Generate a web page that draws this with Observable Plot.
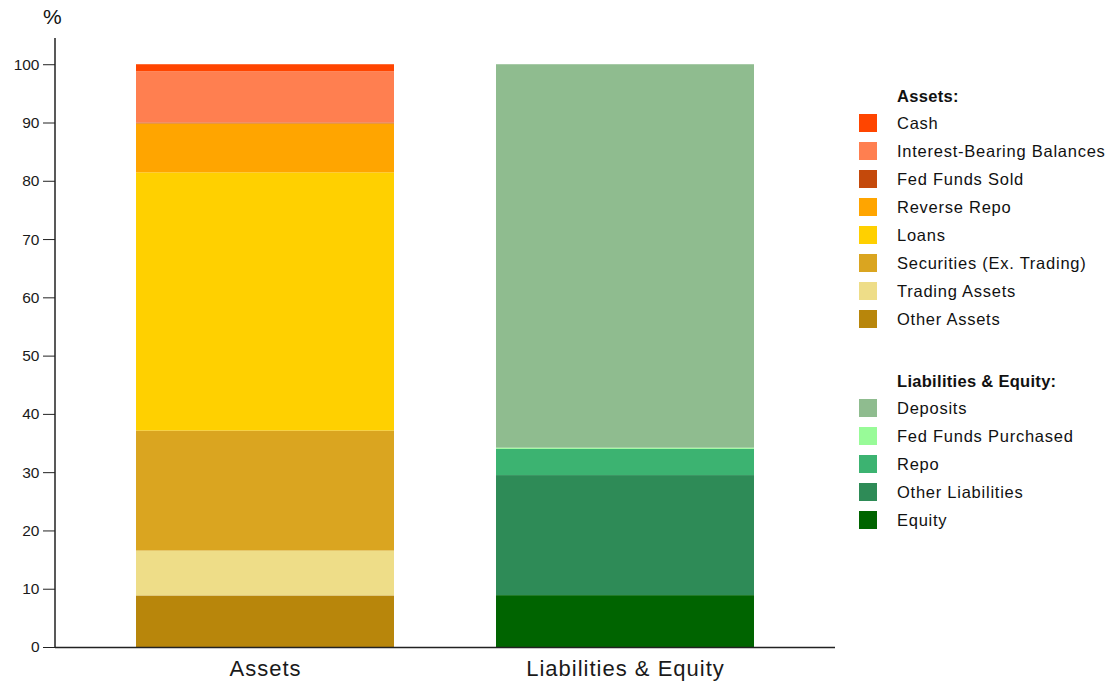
<!DOCTYPE html>
<html>
<head>
<meta charset="utf-8">
<script src="https://cdn.jsdelivr.net/npm/d3@7"></script>
<script src="https://cdn.jsdelivr.net/npm/@observablehq/plot@0.6"></script>
<style>
  body { margin: 0; background: #fff; font-family: "Liberation Sans", Arial, sans-serif; }
  #wrap { position: relative; width: 1112px; height: 683px; }
  #chart { position: absolute; left: 0; top: 0; }
  .lg { position: absolute; font-size: 16.5px; letter-spacing: 0.75px; color: #111; white-space: nowrap; line-height: 18px; }
  .hd { font-weight: bold; letter-spacing: 0.3px; }
  .sw { position: absolute; width: 18px; height: 18px; }
  #pct { position: absolute; left: 43px; top: 5px; font-size: 21px; color: #111; }
  .xl text { letter-spacing: 1px; }
</style>
</head>
<body>
<div id="wrap">
  <div id="chart"></div>
  <div id="pct">%</div>
</div>
<script>
const groups = ["Assets", "Liabilities & Equity"];
const assetItems = ["Cash", "Interest-Bearing Balances", "Fed Funds Sold", "Reverse Repo", "Loans", "Securities (Ex. Trading)", "Trading Assets", "Other Assets"];
const assetValues = [1.2, 8.8, 0.15, 8.4, 44.3, 20.6, 7.7, 8.85];
const assetColors = ["#ff4500", "#ff7f50", "#c4490b", "#ffa500", "#ffd000", "#daa520", "#eedd88", "#b8860b"];
const liabItems = ["Deposits", "Fed Funds Purchased", "Repo", "Other Liabilities", "Equity"];
const liabValues = [65.8, 0.2, 4.5, 20.6, 8.9];
const liabColors = ["#8fbc8f", "#98fb98", "#3cb371", "#2e8b57", "#006400"];
const yTicks = [0, 10, 20, 30, 40, 50, 60, 70, 80, 90, 100];

// bottom-to-top stacking order
const data = [];
for (let i = assetItems.length - 1; i >= 0; i--) data.push({group: groups[0], item: assetItems[i], value: assetValues[i]});
for (let i = liabItems.length - 1; i >= 0; i--) data.push({group: groups[1], item: liabItems[i], value: liabValues[i]});

const chart = Plot.plot({
  width: 1112,
  height: 683,
  marginLeft: 55,
  marginRight: 277,
  marginTop: 38,
  marginBottom: 36,
  style: {fontFamily: "Liberation Sans, Arial, sans-serif", fontSize: "15px", color: "#1a1a1a"},
  x: {domain: groups, paddingInner: 0.2825, paddingOuter: 0.2216, label: null},
  y: {domain: [0, 104.5], label: null},
  color: {domain: [...assetItems, ...liabItems], range: [...assetColors, ...liabColors]},
  marks: [
    Plot.barY(data, {x: "group", y: "value", fill: "item"}),
    Plot.axisY({ticks: yTicks, tickSize: 12, tickPadding: 4, label: null, fontSize: 15.5, stroke: "#222"}),
    Plot.axisX({tickSize: 0, tickPadding: 13, label: null, fontSize: 22, className: "xl"}),
    Plot.ruleY([0], {stroke: "#222", strokeWidth: 1.5})
  ]
});
document.getElementById("chart").appendChild(chart);

// y axis line along the left edge
const svg = d3.select(chart);
svg.append("line").attr("x1", 55).attr("x2", 55).attr("y1", 38).attr("y2", 647)
  .attr("stroke", "#222").attr("stroke-width", 1.5);

// legend
const wrap = document.getElementById("wrap");
function addLegend(title, items, colors, top) {
  const h = document.createElement("div");
  h.className = "lg hd"; h.style.left = "897px"; h.style.top = (top - 9) + "px"; h.textContent = title;
  wrap.appendChild(h);
  items.forEach((it, i) => {
    const cy = top + 27 + i * 28;
    const s = document.createElement("div");
    s.className = "sw"; s.style.left = "859px"; s.style.top = (cy - 9) + "px"; s.style.background = colors[i];
    wrap.appendChild(s);
    const t = document.createElement("div");
    t.className = "lg"; t.style.left = "897px"; t.style.top = (cy - 9) + "px"; t.textContent = it;
    wrap.appendChild(t);
  });
}
addLegend("Assets:", assetItems, assetColors, 96);
addLegend("Liabilities & Equity:", liabItems, liabColors, 381);
</script>
</body>
</html>
